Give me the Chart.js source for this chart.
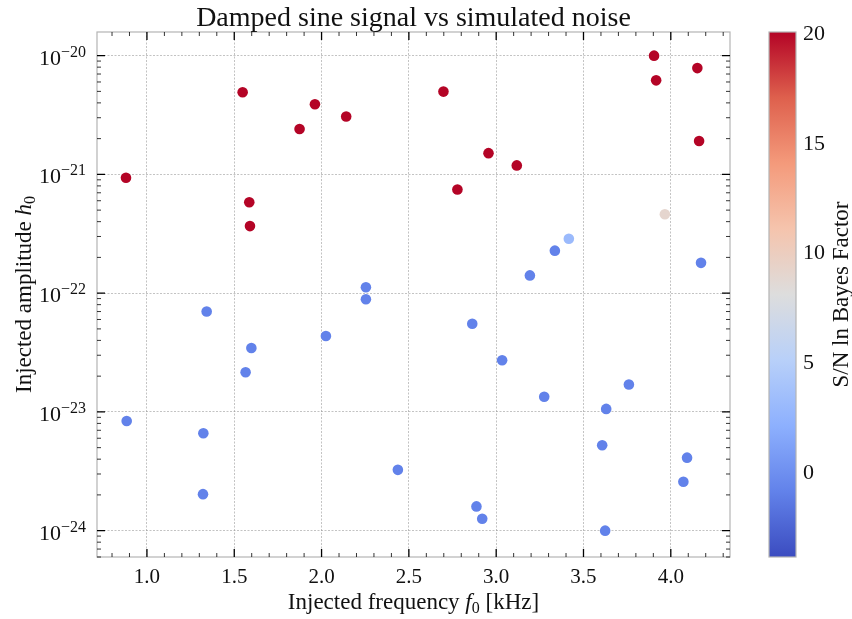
<!DOCTYPE html>
<html>
<head>
<meta charset="utf-8">
<script src="https://cdn.jsdelivr.net/npm/chart.js@4/dist/chart.umd.min.js"></script>
<style>
  html, body { margin: 0; padding: 0; background: #fff; }
  canvas { display: block; }
</style>
</head>
<body>
<canvas id="scatterCanvas" width="852" height="619"></canvas>
<script>
// injected frequency f0 [kHz]
const freq = [0.880, 1.548, 1.874, 1.586, 1.590, 1.962, 2.141, 2.698, 2.956, 3.118,
              2.778, 3.904, 3.916, 4.152, 4.162, 3.966, 3.416, 3.336, 3.193, 4.173,
              2.254, 1.342, 1.598, 1.565, 0.884, 1.323, 1.321, 2.254, 2.025, 2.863,
              3.034, 2.437, 2.887, 2.920, 3.275, 3.760, 3.630, 3.607, 4.093, 4.072, 3.624];
// injected amplitude h0
const amp = [9.37e-22, 4.91e-21, 2.41e-21, 5.83e-22, 3.67e-22, 3.90e-21, 3.07e-21, 4.98e-21, 1.51e-21, 1.19e-21,
             7.45e-22, 1.00e-20, 6.19e-21, 7.85e-21, 1.91e-21, 4.62e-22, 2.87e-22, 2.28e-22, 1.41e-22, 1.80e-22,
             1.12e-22, 7.01e-23, 3.45e-23, 2.16e-23, 8.38e-24, 6.61e-24, 2.03e-24, 8.89e-23, 4.35e-23, 5.52e-23,
             2.72e-23, 3.25e-24, 1.60e-24, 1.26e-24, 1.34e-23, 1.70e-23, 1.06e-23, 5.24e-24, 4.12e-24, 2.58e-24, 1.00e-24];
// S/N ln Bayes factor (colour), clipped at 20
const lnBF = [20, 20, 20, 20, 20, 20, 20, 20, 20, 20,
              20, 20, 20, 20, 20, 9.0, 3.0, -0.9, -0.9, -0.9,
              -0.9, -0.9, -0.9, -0.9, -0.9, -0.9, -0.9, -0.9, -0.9, -0.9,
              -0.9, -0.9, -0.9, -0.9, -0.9, -0.9, -0.9, -0.9, -0.9, -0.9, -0.9];

const xTicks = [1.0, 1.5, 2.0, 2.5, 3.0, 3.5, 4.0];
const yExp = [-24, -23, -22, -21, -20];
const cbTicks = [0, 5, 10, 15, 20];
const cMin = -3.92, cMax = 20;

// coolwarm samples
const coolwarm = [[59,76,192],[98,130,234],[141,176,254],[184,208,249],[221,221,221],
                  [245,196,173],[244,154,123],[222,96,77],[180,4,38]];
const cmap = v => {
    let t = (v - cMin) / (cMax - cMin);
    t = Math.max(0, Math.min(1, t)) * (coolwarm.length - 1);
    const i = Math.min(Math.floor(t), coolwarm.length - 2), f = t - i;
    const a = coolwarm[i], b = coolwarm[i + 1];
    return 'rgb(' + a.map((c, k) => Math.round(c + (b[k] - c) * f)).join(',') + ')';
};

const SERIF = '"Liberation Serif", "DejaVu Serif", serif';

// draw pieces of text one after the other: [text, font, dy]
const drawRun = (ctx, parts, x, y, align) => {
    let w = 0;
    parts.forEach(p => { ctx.font = p[1]; w += ctx.measureText(p[0]).width; });
    let cx = align === 'center' ? x - w / 2 : (align === 'right' ? x - w : x);
    ctx.textAlign = 'left';
    parts.forEach(p => {
        ctx.font = p[1];
        ctx.fillText(p[0], cx, y + (p[2] || 0));
        cx += ctx.measureText(p[0]).width;
    });
};

const decor = {
    id: 'decor',
    afterDraw(chart) {
        const {ctx, chartArea: a, scales: {x, y}} = chart;
        ctx.save();
        // frame
        ctx.strokeStyle = '#b4b4b4';
        ctx.lineWidth = 1.2;
        ctx.strokeRect(a.left, a.top, a.right - a.left, a.bottom - a.top);

        // ticks, inward on all sides
        ctx.strokeStyle = '#000';
        const tickX = (v, len, lw) => {
            const px = x.getPixelForValue(v);
            if (px < a.left || px > a.right) return;
            ctx.lineWidth = lw;
            ctx.beginPath();
            ctx.moveTo(px, a.bottom); ctx.lineTo(px, a.bottom - len);
            ctx.moveTo(px, a.top); ctx.lineTo(px, a.top + len);
            ctx.stroke();
        };
        const tickY = (v, len, lw) => {
            const py = y.getPixelForValue(v);
            if (py < a.top || py > a.bottom) return;
            ctx.lineWidth = lw;
            ctx.beginPath();
            ctx.moveTo(a.left, py); ctx.lineTo(a.left + len, py);
            ctx.moveTo(a.right, py); ctx.lineTo(a.right - len, py);
            ctx.stroke();
        };
        for (let k = 7; k <= 43; k++) {
            if (k % 5 !== 0) tickX(k / 10, 4, 0.8);
        }
        xTicks.forEach(v => tickX(v, 8, 1.3));
        for (let e = -25; e <= -20; e++) {
            for (let m = 2; m <= 9; m++) tickY(m * Math.pow(10, e), 4, 0.8);
        }
        yExp.forEach(e => tickY(Math.pow(10, e), 8, 1.3));

        // tick labels
        ctx.fillStyle = '#111';
        ctx.textBaseline = 'alphabetic';
        ctx.textAlign = 'center';
        ctx.font = '21px ' + SERIF;
        xTicks.forEach(v => ctx.fillText(v.toFixed(1), x.getPixelForValue(v), a.bottom + 26));
        yExp.forEach(e => {
            const py = y.getPixelForValue(Math.pow(10, e));
            drawRun(ctx, [['10', '22px ' + SERIF, 9], ['\u2212' + Math.abs(e), '16px ' + SERIF, 1]],
                    a.left - 11, py, 'right');
        });

        // title and axis labels
        ctx.font = '28px ' + SERIF;
        ctx.textAlign = 'center';
        ctx.fillText('Damped sine signal vs simulated noise', (a.left + a.right) / 2, 26);
        drawRun(ctx, [['Injected frequency ', '23px ' + SERIF], ['f', 'italic 23px ' + SERIF],
                      ['0', '16px ' + SERIF, 4], [' [kHz]', '23px ' + SERIF]],
                (a.left + a.right) / 2, 609, 'center');
        ctx.save();
        ctx.translate(31, (a.top + a.bottom) / 2);
        ctx.rotate(-Math.PI / 2);
        drawRun(ctx, [['Injected amplitude ', '23px ' + SERIF], ['h', 'italic 23px ' + SERIF],
                      ['0', '16px ' + SERIF, 4]], 0, 0, 'center');
        ctx.restore();

        // colour bar
        const cbL = 769, cbR = 796;
        const cy = v => a.bottom - (v - cMin) / (cMax - cMin) * (a.bottom - a.top);
        const grad = ctx.createLinearGradient(0, a.bottom, 0, a.top);
        coolwarm.forEach((c, i) => grad.addColorStop(i / (coolwarm.length - 1), 'rgb(' + c.join(',') + ')'));
        ctx.fillStyle = grad;
        ctx.fillRect(cbL, a.top, cbR - cbL, a.bottom - a.top);
        ctx.strokeStyle = '#b4b4b4';
        ctx.lineWidth = 1.2;
        ctx.strokeRect(cbL, a.top, cbR - cbL, a.bottom - a.top);
        ctx.fillStyle = '#111';
        ctx.font = '22px ' + SERIF;
        ctx.textAlign = 'left';
        cbTicks.forEach(v => ctx.fillText(String(v), cbL + 34, cy(v) + 8));
        ctx.save();
        ctx.translate(848, (a.top + a.bottom) / 2);
        ctx.rotate(-Math.PI / 2);
        ctx.textAlign = 'center';
        ctx.font = '23px ' + SERIF;
        ctx.fillText('S/N ln Bayes Factor', 0, 0);
        ctx.restore();
        ctx.restore();
    }
};

const isMajor = v => Math.abs(Math.log10(v) - Math.round(Math.log10(v))) < 1e-6;

new Chart(document.getElementById('scatterCanvas'), {
    type: 'scatter',
    data: {
        datasets: [{
            data: freq.map((f, i) => ({x: f, y: amp[i]})),
            backgroundColor: lnBF.map(cmap),
            borderWidth: 0,
            pointRadius: 5.3,
            pointHoverRadius: 5.3
        }]
    },
    options: {
        responsive: false,
        animation: false,
        devicePixelRatio: 1,
        layout: {padding: {left: 97, top: 32, right: 122, bottom: 62}},
        plugins: {legend: {display: false}, tooltip: {enabled: false}, title: {display: false}},
        scales: {
            x: {
                type: 'linear', min: 0.714, max: 4.339,
                afterBuildTicks: s => { s.ticks = xTicks.map(v => ({value: v})); },
                ticks: {display: false},
                grid: {drawTicks: false, color: '#9a9a9a', lineWidth: 0.6},
                border: {display: false, dash: [2, 1.5]}
            },
            y: {
                type: 'logarithmic', min: Math.pow(10, -24.196), max: Math.pow(10, -19.801),
                afterBuildTicks: s => { s.ticks = yExp.map(e => ({value: Math.pow(10, e)})); },
                ticks: {display: false},
                grid: {drawTicks: false, lineWidth: 0.6,
                       color: c => (c.tick && isMajor(c.tick.value)) ? '#9a9a9a' : 'rgba(0,0,0,0)'},
                border: {display: false, dash: [2, 1.5]}
            }
        }
    },
    plugins: [decor]
});
</script>
</body>
</html>
